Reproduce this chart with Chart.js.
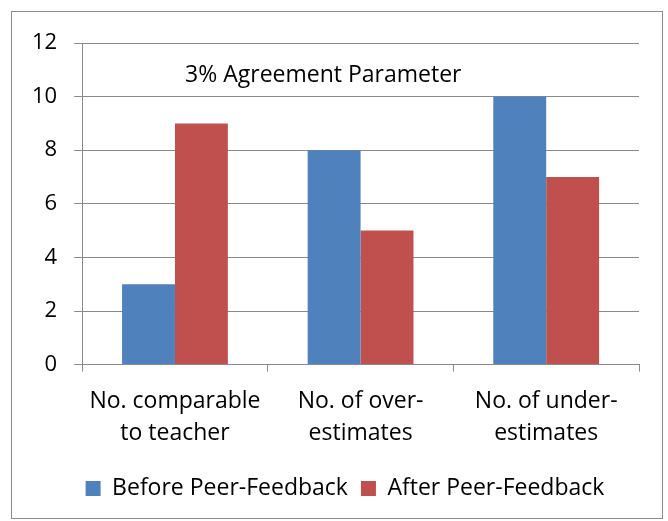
<!DOCTYPE html>
<html>
<head>
<meta charset="utf-8">
<script src="https://cdn.jsdelivr.net/npm/chart.js@4/dist/chart.umd.min.js"></script>
<style>
html,body{margin:0;padding:0;background:#fff;}
#wrap{position:relative;width:668px;height:521px;}
</style>
</head>
<body>
<div id="wrap"><canvas id="c" width="668" height="521"></canvas></div>
<script>
const categories = [["No. comparable","to teacher"],["No. of over-","estimates"],["No. of under-","estimates"]];
const seriesNames = ["Before Peer-Feedback","After Peer-Feedback"];
const beforeValues = [3, 8, 10];
const afterValues = [9, 5, 7];
const yTicks = [0, 2, 4, 6, 8, 10, 12];
const chartTitle = "3% Agreement Parameter";

const FONT = "'Open Sans', sans-serif";
const GRID = '#8a8a8a';

const decor = {
  id: 'decor',
  afterLayout(chart) {
    if (chart.legend) {
      chart.legend.left += 18;
      chart.legend.right += 18;
    }
  },
  beforeDraw(chart) {
    const ctx = chart.ctx;
    ctx.save();
    ctx.fillStyle = '#fff';
    ctx.fillRect(0, 0, chart.width, chart.height);
    ctx.strokeStyle = '#8c8c8c';
    ctx.lineWidth = 1;
    ctx.strokeRect(11.5, 11.5, 651, 507);
    ctx.restore();
  },
  afterDatasetsDraw(chart) {
    const ctx = chart.ctx;
    const a = chart.chartArea;
    const y = chart.scales.y;
    ctx.save();
    ctx.fillStyle = '#000';
    ctx.font = "23px " + FONT;
    ctx.textAlign = 'center';
    ctx.textBaseline = 'middle';
    ctx.fillText(chartTitle, a.left + 0.433 * (a.right - a.left), y.getPixelForValue(10.8));
    ctx.restore();
  }
};

new Chart(document.getElementById('c'), {
  type: 'bar',
  data: {
    labels: categories,
    datasets: [
      {label: seriesNames[0], data: beforeValues, backgroundColor: '#4F81BD', borderWidth: 0, categoryPercentage: 0.57, barPercentage: 1},
      {label: seriesNames[1], data: afterValues, backgroundColor: '#C0504D', borderWidth: 0, categoryPercentage: 0.57, barPercentage: 1}
    ]
  },
  options: {
    responsive: false,
    animation: false,
    devicePixelRatio: 1,
    layout: {padding: {left: 15, right: 29, top: 43, bottom: 11}},
    plugins: {
      legend: {
        position: 'bottom',
        labels: {
          font: {family: FONT, size: 23},
          color: '#000',
          boxWidth: 15,
          boxHeight: 15,
          padding: 13
        }
      },
      title: {display: false},
      tooltip: {enabled: false}
    },
    scales: {
      x: {
        grid: {display: true, drawOnChartArea: false, drawTicks: true, tickLength: 7, color: GRID, offset: true},
        border: {display: true, color: GRID, width: 1},
        ticks: {font: {family: FONT, size: 23, lineHeight: 1.4}, color: '#000', padding: 14, maxRotation: 0}
      },
      y: {
        min: 0, max: 12,
        afterBuildTicks(scale) { scale.ticks = yTicks.map(v => ({value: v})); },
        grid: {color: GRID, tickLength: 8, drawTicks: true},
        border: {display: true, color: GRID, width: 1},
        ticks: {font: {family: FONT, size: 22}, color: '#000', padding: 17}
      }
    }
  },
  plugins: [decor]
});
</script>
</body>
</html>
